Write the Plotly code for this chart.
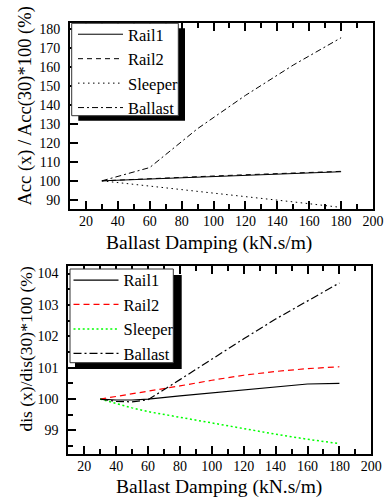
import plotly.graph_objects as go

# ---------------- data ----------------
x_top = [30, 60, 90, 120, 150, 180]
acc_rail1 = [100, 101.0, 101.9, 102.9, 103.9, 104.8]
acc_rail2 = [100, 101.2, 102.2, 103.2, 104.2, 105.0]
acc_sleeper = [100, 97.3, 94.5, 91.8, 88.9, 86.0]
acc_ballast = [100, 107.0, 127.5, 145.0, 161.0, 175.4]

x_bot = [30, 40, 50, 60, 80, 100, 120, 140, 160, 180]
dis_rail1 = [100, 99.97, 99.97, 100.0, 100.1, 100.2, 100.28, 100.4, 100.48, 100.5]
dis_rail2 = [100, 100.08, 100.16, 100.25, 100.42, 100.6, 100.76, 100.88, 100.97, 101.03]
dis_sleeper = [100, 99.85, 99.72, 99.6, 99.42, 99.25, 99.05, 98.88, 98.72, 98.58]
dis_ballast = [100, 99.93, 99.91, 99.98, 100.62, 101.28, 101.92, 102.55, 103.13, 103.7]

series_names = ["Rail1", "Rail2", "Sleeper", "Ballast"]
x_tickvals = [20, 40, 60, 80, 100, 120, 140, 160, 180, 200]
x_title = "Ballast Damping (kN.s/m)"
y_title_top = "Acc (x) / Acc(30)*100 (%)"
y_title_bot = "dis (x)/dis(30)*100 (%)"

W, H = 387, 504
FONT = "Liberation Serif, Times New Roman, Times, serif"

def px(x):
    return x / W

def py(y):
    return 1 - y / H

fig = go.Figure()

top_styles = [
    dict(color="black", width=1, dash="solid"),
    dict(color="black", width=1, dash="5px,4px"),
    dict(color="black", width=1, dash="1.5px,3.5px"),
    dict(color="black", width=1, dash="6px,3px,2px,3px"),
]
bot_styles = [
    dict(color="black", width=1.2, dash="solid"),
    dict(color="#ff0000", width=1.2, dash="6px,4px"),
    dict(color="#00ff00", width=1.5, dash="2px,2.6px"),
    dict(color="black", width=1.2, dash="8px,3px,2px,3px"),
]

for name, ys, st in zip(series_names, [acc_rail1, acc_rail2, acc_sleeper, acc_ballast], top_styles):
    fig.add_trace(go.Scatter(x=x_top, y=ys, mode="lines", name=name, line=st,
                             xaxis="x", yaxis="y", legend="legend"))
for name, ys, st in zip(series_names, [dis_rail1, dis_rail2, dis_sleeper, dis_ballast], bot_styles):
    fig.add_trace(go.Scatter(x=x_bot, y=ys, mode="lines", name=name, line=st,
                             xaxis="x2", yaxis="y2", legend="legend2"))

tickfont = dict(family=FONT, size=14, color="black")

def xaxis_cfg(domain, anchor):
    return dict(domain=domain, anchor=anchor, range=[10, 200], tickvals=x_tickvals,
                ticks="inside", ticklen=8, tickwidth=1.5, tickcolor="black",
                minor=dict(dtick=10, tick0=0, ticks="inside", ticklen=5, tickwidth=1.5, tickcolor="black"),
                showline=True, linewidth=2, linecolor="black", mirror="ticks",
                showgrid=False, zeroline=False, tickfont=tickfont, automargin=False,
                ticklabelstandoff=-2)

def yaxis_cfg(domain, anchor, rng, dtick, minor=None):
    d = dict(domain=domain, anchor=anchor, range=rng, dtick=dtick, tick0=0,
             ticks="inside", ticklen=8, tickwidth=1.5, tickcolor="black",
             showline=True, linewidth=2, linecolor="black", mirror=True,
             showgrid=False, zeroline=False, tickfont=tickfont, automargin=False,
             ticklabelstandoff=5)
    if minor:
        d["minor"] = dict(dtick=minor, tick0=0, ticks="inside", ticklen=5, tickwidth=1.5, tickcolor="black")
    return d

top_xd = [px(70), px(373)]
top_yd = [py(209.3), py(23.3)]
bot_xd = [px(68.3), px(371.3)]
bot_yd = [py(454), py(265.7)]

shapes = [
    # top legend shadow + box
    dict(type="rect", xref="paper", yref="paper", x0=px(78.3), x1=px(185), y0=py(120.7), y1=py(28.3),
         fillcolor="black", line=dict(width=0), layer="above"),
    dict(type="rect", xref="paper", yref="paper", x0=px(71.7), x1=px(178.3), y0=py(115.7), y1=py(23.3),
         fillcolor="white", line=dict(color="#333333", width=1), layer="above"),
    # bottom legend shadow + box
    dict(type="rect", xref="paper", yref="paper", x0=px(75), x1=px(181.7), y0=py(369), y1=py(275),
         fillcolor="black", line=dict(width=0), layer="above"),
    dict(type="rect", xref="paper", yref="paper", x0=px(70), x1=px(173.3), y0=py(362.7), y1=py(269),
         fillcolor="white", line=dict(color="#333333", width=1), layer="above"),
]

annotations = [
    dict(text=x_title, xref="paper", yref="paper", x=px(209), y=py(242.5), xanchor="center", yanchor="middle",
         showarrow=False, font=dict(family=FONT, size=19.5, color="black")),
    dict(text=x_title, xref="paper", yref="paper", x=px(219), y=py(486.7), xanchor="center", yanchor="middle",
         showarrow=False, font=dict(family=FONT, size=19.5, color="black")),
    dict(text=y_title_top, xref="paper", yref="paper", x=px(24.5), y=py(106), xanchor="center", yanchor="middle",
         textangle=-90, showarrow=False, font=dict(family=FONT, size=18.5, color="black")),
    dict(text=y_title_bot, xref="paper", yref="paper", x=px(25), y=py(349.5), xanchor="center", yanchor="middle",
         textangle=-90, showarrow=False, font=dict(family=FONT, size=17.5, color="black")),
]

legend_common = dict(bgcolor="rgba(0,0,0,0)", borderwidth=0, xanchor="left", yanchor="top",
                     itemwidth=45, tracegroupgap=0)

fig.update_layout(
    width=W, height=H, margin=dict(l=0, r=0, t=0, b=0),
    paper_bgcolor="white", plot_bgcolor="white",
    template="none",
    font=dict(family=FONT, color="black"),
    xaxis=xaxis_cfg(top_xd, "y"),
    yaxis=yaxis_cfg(top_yd, "x", [85, 183], 10),
    xaxis2=xaxis_cfg(bot_xd, "y2"),
    yaxis2=yaxis_cfg(bot_yd, "x2", [98.25, 104.25], 1, 0.5),
    legend=dict(x=px(73), y=py(17), font=dict(family=FONT, size=16.5, color="black"), **legend_common),
    legend2=dict(x=px(68.5), y=py(262.8), font=dict(family=FONT, size=16.5, color="black"), **legend_common),
    shapes=shapes,
    annotations=annotations,
    showlegend=True,
)

fig.write_html("out.html")
